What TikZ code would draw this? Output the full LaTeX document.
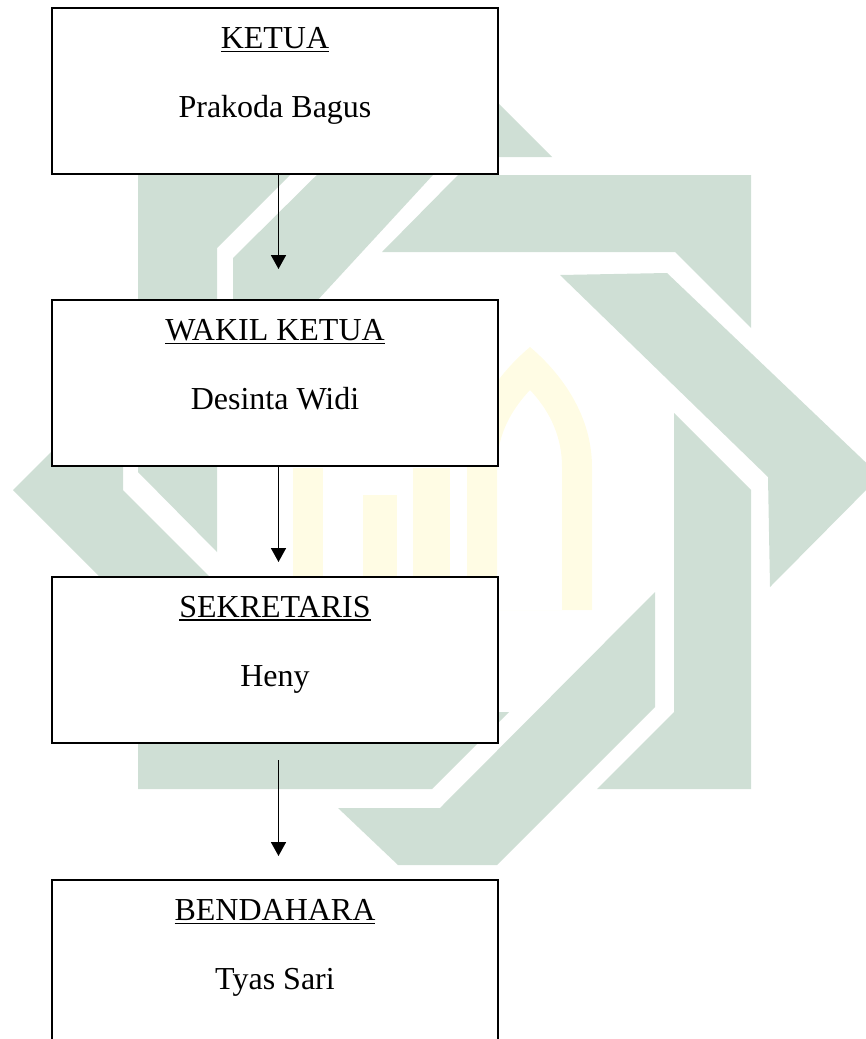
\documentclass[tikz,border=0pt]{standalone}
\usepackage{fontspec}
\setmainfont{Liberation Serif}
\usetikzlibrary{arrows.meta}
\definecolor{wmgreen}{RGB}{207,223,213}
\definecolor{wmyellow}{RGB}{255,252,228}
\begin{document}
\begin{tikzpicture}[x=1pt,y=-1pt,
  wm/.style={fill=wmgreen, draw=none},
  wy/.style={fill=wmyellow, draw=none},
  orgbox/.style={draw=black, fill=white, line width=2pt, minimum width=446pt, minimum height=166pt, inner sep=0pt, outer sep=0pt},
  lbl/.style={anchor=base, inner sep=0pt, outer sep=0pt, font=\fontsize{32pt}{38pt}\selectfont},
  arr/.style={-{Triangle[length=14pt,width=15pt]}, line width=1.7pt},
  uline/.style={line width=1.8pt}]
\path[use as bounding box] (0,0) rectangle (866,1039);
\clip (0,0) rectangle (866,1039);
% watermark (green)
\fill[wm] (470,75) -- (552,157) -- (470,157) -- cycle;
\fill[wm] (458,175) -- (751,175) -- (751,328) -- (675,252) -- (382,252) -- cycle;
\fill[wm] (342,150) -- (456,150) -- (233,392) -- (233,258) -- cycle;
\fill[wm] (138,150) -- (315,150) -- (217,248) -- (217,552) -- (138,472) -- cycle;
\fill[wm] (13,490) -- (123,380) -- (123,490) -- (300,667) -- (190,667) -- cycle;
\fill[wm] (138,712) -- (509,712) -- (432,789) -- (138,789) -- cycle;
\fill[wm] (338,808) -- (440,808) -- (655,592) -- (655,707) -- (497,865) -- (398,865) -- cycle;
\fill[wm] (674,413) -- (751,490) -- (751,789) -- (597,789) -- (674,712) -- cycle;
\fill[wm] (560,275) -- (667,273) -- (880,476) -- (770,587) -- (768,477) -- cycle;
% watermark (yellow)
\fill[wy, even odd rule] (467,610) -- (467,467) .. controls (467,410) and (505,368) .. (530,347) .. controls (555,368) and (592,410) .. (592,467) -- (592,610) -- cycle
  (497,610) -- (497,467) .. controls (497,432) and (514,407) .. (530,390) .. controls (546,407) and (562,432) .. (562,467) -- (562,610) -- cycle;
\fill[wy] (293,468) rectangle (323,577);
\fill[wy] (363,495) rectangle (397,577);
\fill[wy] (413,468) rectangle (450,577);
% boxes
\node[orgbox] (b1) at (275,91) {};
\node[orgbox] (b2) at (275,383) {};
\node[orgbox] (b3) at (275,659.5) {};
\node[orgbox] (b4) at (275,963) {};
% texts
\node[lbl] (t1) at ([yshift=-40.5pt]b1.north) {KETUA};
\node[lbl] (n1) at ([yshift=-109.5pt]b1.north) {Prakoda Bagus};
\node[lbl] (t2) at ([yshift=-40.5pt]b2.north) {WAKIL KETUA};
\node[lbl] (n2) at ([yshift=-109.5pt]b2.north) {Desinta Widi};
\node[lbl] (t3) at ([yshift=-40.5pt]b3.north) {SEKRETARIS};
\node[lbl] (n3) at ([yshift=-109.5pt]b3.north) {Heny};
\node[lbl] (t4) at ([yshift=-40.5pt]b4.north) {BENDAHARA};
\node[lbl] (n4) at ([yshift=-109.5pt]b4.north) {Tyas Sari};
% underlines
\foreach \t in {t1,t2,t3,t4}
  \draw[uline] ([yshift=-3pt]\t.base west) -- ([yshift=-3pt]\t.base east);
% connectors
\draw[arr, shorten >=31pt] ([xshift=3.5pt]b1.south) -- ([xshift=3.5pt]b2.north);
\draw[arr, shorten >=14.5pt] ([xshift=3.5pt]b2.south) -- ([xshift=3.5pt]b3.north);
\draw[arr, shorten <=17.5pt, shorten >=24pt] ([xshift=3.5pt]b3.south) -- ([xshift=3.5pt]b4.north);
\end{tikzpicture}
\end{document}
